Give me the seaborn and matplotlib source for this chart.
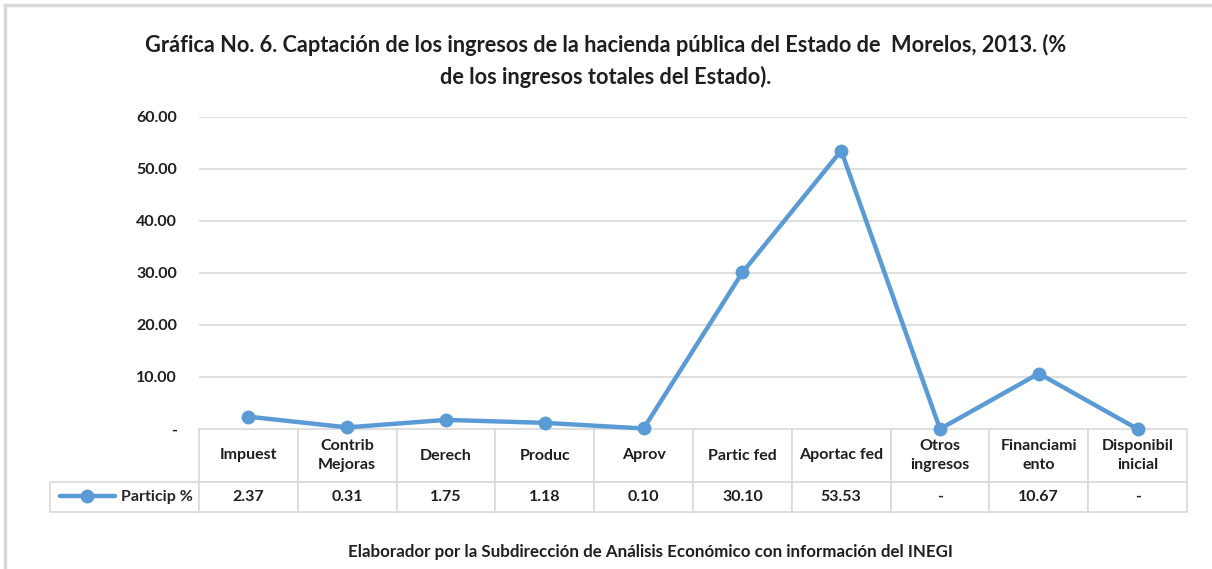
import pandas as pd
import numpy as np
import matplotlib.pyplot as plt
import seaborn as sns
from matplotlib.patches import Rectangle

# Data
categories = ['Impuest', 'Contrib\nMejoras', 'Derech', 'Produc', 'Aprov',
              'Partic fed', 'Aportac fed', 'Otros\ningresos', 'Financiami\nento',
              'Disponibil\ninicial']
particip = [2.37, 0.31, 1.75, 1.18, 0.10, 30.10, 53.53, 0.0, 10.67, 0.0]
table_labels = ['2.37', '0.31', '1.75', '1.18', '0.10', '30.10', '53.53', '-', '10.67', '-']
y_ticks = [0, 10, 20, 30, 40, 50, 60]
y_tick_labels = ['-', '10.00', '20.00', '30.00', '40.00', '50.00', '60.00']
series_name = 'Particip %'

BLUE = '#5B9BD5'
GRID = '#D9D9D9'
TXT = '#1f1f1f'

sns.set_style('white')
plt.rcParams['font.family'] = ['Lato', 'DejaVu Sans']

W, H = 1212, 569
fig = plt.figure(figsize=(W / 100, H / 100), dpi=100)

# axes placed in pixel terms of the reference
left, right, top, bottom = 199, 1187, 117, 429
ax = fig.add_axes([left / W, 1 - bottom / H, (right - left) / W, (bottom - top) / H])

df = pd.DataFrame({'pos': np.arange(len(categories)), 'value': particip})
sns.lineplot(data=df, x='pos', y='value', ax=ax, color=BLUE, linewidth=3.2,
             marker='o', markersize=10, markeredgewidth=0, label=series_name,
             clip_on=False, zorder=5)

ax.set_xlim(-0.5, len(categories) - 0.5)
ax.set_ylim(0, 60)
ax.set_yticks(y_ticks)
ax.set_yticklabels(y_tick_labels, fontsize=11.5, fontweight='bold', color=TXT)
ax.set_xticks([])
ax.set_xlabel('')
ax.set_ylabel('')
ax.tick_params(axis='y', length=0, pad=16)
for t in ax.get_yticklabels():
    t.set_zorder(3)
for y in y_ticks[1:]:
    ax.axhline(y, color=GRID, linewidth=1.2, zorder=0)
for s in ax.spines.values():
    s.set_visible(False)

# data table under the plot (first column holds the legend key)
ax_w = right - left
ax_h = bottom - top
lab_w = 149
hdr_h, row_h = 53, 30
tbl = ax.table(cellText=[[''] + table_labels], colLabels=[''] + categories,
               cellLoc='center',
               bbox=[-lab_w / ax_w, -(hdr_h + row_h) / ax_h,
                     1 + lab_w / ax_w, (hdr_h + row_h) / ax_h])
tbl.auto_set_font_size(False)
for (r, c), cell in tbl.get_celld().items():
    cell.set_edgecolor(GRID)
    cell.set_linewidth(1.2)
    cell.set_width(lab_w if c == 0 else ax_w / len(categories))
    cell.set_height(hdr_h if r == 0 else row_h)
    cell.get_text().set_fontsize(11.5)
    cell.get_text().set_fontweight('bold')
    cell.get_text().set_color(TXT)
    if r == 0:
        cell.get_text().set_linespacing(1.45)
    if r == 0 and c == 0:
        cell.set_edgecolor('none')
        cell.set_facecolor('none')
tbl.set_zorder(1)

# legend key inside the first cell of the data row
ax.legend(loc='center left', bbox_to_anchor=(-lab_w / ax_w + 0.004, -(hdr_h + row_h / 2) / ax_h),
          frameon=False, handlelength=3.4, handletextpad=0.4, borderaxespad=0,
          prop={'weight': 'bold', 'size': 11.5})

fig.text(0.5, 1 - 45 / H,
         'Gráfica No. 6. Captación de los ingresos de la hacienda pública del Estado de  Morelos, 2013. (%',
         ha='center', va='center', fontsize=15.7, fontweight='bold', color=TXT)
fig.text(0.5, 1 - 77 / H, 'de los ingresos totales del Estado).',
         ha='center', va='center', fontsize=15.7, fontweight='bold', color=TXT)
fig.text(650 / W, 1 - 552 / H,
         'Elaborador por la Subdirección de Análisis Económico con información del INEGI',
         ha='center', va='center', fontsize=12.2, fontweight='bold', color=TXT)

# outer chart frame (only top and left edges fall inside the image)
fig.patches.append(Rectangle((5 / W, -0.1), 1.2, 1.1 - 5 / H, transform=fig.transFigure,
                             fill=False, edgecolor='#D9D9D9', linewidth=2.5))

fig.savefig('out.png', dpi=100)
